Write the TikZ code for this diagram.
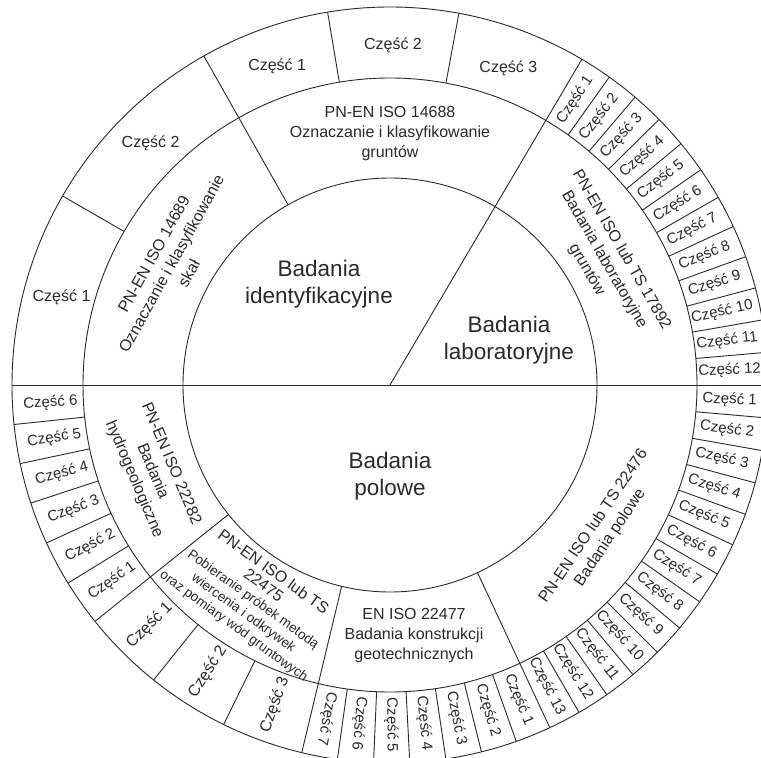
\documentclass[tikz,border=0pt]{standalone}
\usepackage{fontspec}
\setmainfont{Liberation Sans}
\definecolor{ink}{HTML}{2A2A2A}
\tikzset{
  ring/.style={draw=ink, line width=0.9pt},
  part/.style={font=\fontsize{15}{18}\selectfont, text=ink, inner sep=0pt},
  bigpart/.style={font=\fontsize{16}{19}\selectfont, text=ink, inner sep=0pt},
  norm/.style={font=\fontsize{16}{20}\selectfont, text=ink, align=center, inner sep=0pt},
  tightnorm/.style={norm, font=\fontsize{16}{16.5}\selectfont},
  core/.style={font=\fontsize{22.5}{26.5}\selectfont, text=ink, align=center, inner sep=0pt},
}
\newcommand{\smallline}{\fontsize{13.5}{16.5}\selectfont}
\begin{document}
\begin{tikzpicture}[x=1pt,y=1pt]
  \useasboundingbox (-390,-373) rectangle (371,385);
  \clip (-390,-373) rectangle (371,385);
  \fill[white] (-390,-373) rectangle (371,385);
  \coordinate (O) at (0,0);
  \pgfmathsetmacro{\RadIn}{207}
  \pgfmathsetmacro{\RadMid}{307}
  \pgfmathsetmacro{\RadOut}{378}

  % rings
  \draw[ring] (O) circle[radius=\RadIn pt];
  \draw[ring] (O) circle[radius=\RadMid pt];
  \draw[ring] (O) circle[radius=\RadOut pt];

  % main dividers
  \draw[ring] (180:\RadOut pt) -- (0:\RadOut pt);
  \draw[ring] (O) -- (59.5:\RadOut pt);
  \foreach \a in {119.5, 218.7, 256.5, 295}
    \draw[ring] (\a:\RadIn pt) -- (\a:\RadOut pt);

  % outer-ring cell dividers
  \foreach \a in {150, 99.5, 79.5, 186, 192, 198.2, 204.7, 211.6, 231.3, 243.9}
    \draw[ring] (\a:\RadMid pt) -- (\a:\RadOut pt);
  \foreach \k in {1,...,11}
    \draw[ring] ({59.5*\k/12}:\RadMid pt) -- ({59.5*\k/12}:\RadOut pt);
  \foreach \k in {1,...,12}
    \draw[ring] ({-5*\k}:\RadMid pt) -- ({-5*\k}:\RadOut pt);
  \foreach \k in {1,...,6}
    \draw[ring] ({-65-5.5*\k}:\RadMid pt) -- ({-65-5.5*\k}:\RadOut pt);

  % centre
  \node[core] (identyf) at (-71,101) {Badania\\identyfikacyjne};
  \node[core] (labor) at (119,45) {Badania\\laboratoryjne};
  \node[core] (polowe) at (0,-91) {Badania\\polowe};

  % standards
  \node[norm, rotate=61] (iso14689) at (151:250pt) {PN-EN ISO 14689\\Oznaczanie i klasyfikowanie\\skał};
  \node[norm] (iso14688) at (90:251pt) {PN-EN ISO 14688\\Oznaczanie i klasyfikowanie\\gruntów};
  \node[norm, rotate=-60] (iso17892) at (30.3:248pt) {PN-EN ISO lub TS 17892\\Badania laboratoryjne\\gruntów};
  \node[norm, rotate=-67] (iso22282) at (200:253pt) {PN-EN ISO 22282\\Badania\\hydrogeologiczne};
  \node[tightnorm, rotate=-36] (iso22475) at (237.5:254pt) {PN-EN ISO lub TS\\22475\\
    \smallline Pobieranie próbek metodą\\
    \smallline wiercenia i odkrywek\\
    \smallline oraz pomiary wód gruntowych};
  \node[norm] (iso22477) at (24,-251) {EN ISO 22477\\Badania konstrukcji\\geotechnicznych};
  \node[norm, rotate=56] (iso22476) at (212,-147) {PN-EN ISO lub TS 22476\\Badania polowe};

  % wide parts, horizontal labels
  \node[bigpart] (p14689a) at (165:340pt) {Część 1};
  \node[bigpart] (p14689b) at (134.75:340pt) {Część 2};
  \node[bigpart] (p14688a) at (109.5:338pt) {Część 1};
  \node[bigpart] (p14688b) at (89.5:340pt) {Część 2};
  \node[bigpart] (p14688c) at (69.5:338pt) {Część 3};

  % narrow parts, radial labels
  \foreach \k in {1,...,12} {
    \pgfmathsetmacro{\ang}{59.5-(\k-0.5)*59.5/12}
    \node[part, rotate=\ang] (p17892-\k) at (\ang:340pt) {Część \k};
  }
  \foreach \k in {1,...,13} {
    \pgfmathsetmacro{\ang}{-5*(\k-0.5)}
    \node[part, rotate=\ang] (p22476-\k) at (\ang:340pt) {Część \k};
  }
  \foreach \k in {1,...,7} {
    \pgfmathsetmacro{\ang}{-65-5.5*(\k-0.5)}
    \node[part, rotate=\ang] (p22477-\k) at (\ang:340pt) {Część \k};
  }
  \foreach \k/\ang in {1/225, 2/237.6, 3/250.2} {
    \node[bigpart, rotate=\ang-180] (p22475-\k) at (\ang:340pt) {Część \k};
  }
  \foreach \k/\ang in {6/183, 5/189, 4/195.1, 3/201.45, 2/208.15, 1/215.15} {
    \node[part, rotate=\ang-180] (p22282-\k) at (\ang:340pt) {Część \k};
  }
\end{tikzpicture}
\end{document}
